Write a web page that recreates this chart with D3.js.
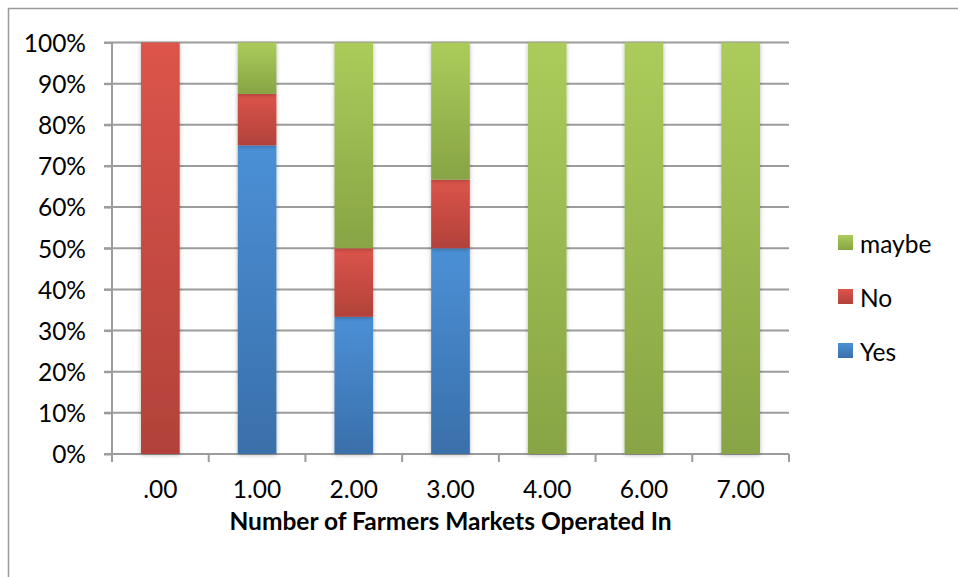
<!DOCTYPE html>
<html>
<head>
<meta charset="utf-8">
<script src="https://cdn.jsdelivr.net/npm/d3@7/dist/d3.min.js"></script>
<style>
  html, body { margin: 0; padding: 0; background: #fff; }
  svg { display: block; }
  text { font-family: Lato, "Open Sans", sans-serif; fill: #000; }
</style>
</head>
<body>
<svg id="chart" width="958" height="577"></svg>
<script>
// Share of answers per number of farmers markets operated in (percent of respondents)
const categories = [".00", "1.00", "2.00", "3.00", "4.00", "6.00", "7.00"];
const yesValues   = [0, 75, 33.33, 50, 0, 0, 0];
const noValues    = [100, 12.5, 16.67, 16.67, 0, 0, 0];
const maybeValues = [0, 12.5, 50, 33.33, 100, 100, 100];
const seriesNames = ["Yes", "No", "maybe"];
const yTicks = [0, 10, 20, 30, 40, 50, 60, 70, 80, 90, 100];
const xTitle = "Number of Farmers Markets Operated In";

const svg = d3.select("#chart");
const W = 958, H = 577;
const plot = { left: 112, right: 789, top: 42.5, bottom: 454 };
const labelSize = "24.5px";

// Chart frame
svg.append("rect")
  .attr("x", 8.5).attr("y", 8.5)
  .attr("width", W).attr("height", H)
  .attr("fill", "#fff").attr("stroke", "#9a9a9a").attr("stroke-width", 1.5);

const defs = svg.append("defs");
const palette = {
  Yes:   { top: "#4b90d6", bottom: "#3a6faa" },
  No:    { top: "#dc544b", bottom: "#b1423a" },
  maybe: { top: "#abcc5b", bottom: "#88a445" }
};
seriesNames.forEach(name => {
  const g = defs.append("linearGradient")
    .attr("id", "grad-" + name)
    .attr("x1", 0).attr("y1", 0).attr("x2", 0).attr("y2", 1);
  g.append("stop").attr("offset", "0%").attr("stop-color", palette[name].top);
  g.append("stop").attr("offset", "100%").attr("stop-color", palette[name].bottom);
});
const shadow = defs.append("filter").attr("id", "barShadow")
  .attr("x", "-30%").attr("y", "-10%").attr("width", "160%").attr("height", "120%");
shadow.append("feDropShadow")
  .attr("dx", 0).attr("dy", 1).attr("stdDeviation", 2.2)
  .attr("flood-color", "#000").attr("flood-opacity", 0.28);

const x = d3.scaleBand()
  .domain(categories)
  .range([plot.left, plot.right])
  .paddingInner(0.6).paddingOuter(0.3);

const y = d3.scaleLinear()
  .domain([0, 100])
  .range([plot.bottom, plot.top]);

// Horizontal gridlines
svg.append("g")
  .selectAll("line")
  .data(yTicks)
  .join("line")
  .attr("x1", plot.left - 8).attr("x2", plot.right)
  .attr("y1", d => y(d)).attr("y2", d => y(d))
  .attr("stroke", "#9c9c9c").attr("stroke-width", 2);

// Y axis
const yAxis = svg.append("g")
  .attr("transform", `translate(${plot.left},0)`)
  .call(d3.axisLeft(y).tickValues(yTicks).tickFormat(d => d + "%").tickSize(8).tickPadding(18));
yAxis.select(".domain").attr("stroke", "#9c9c9c").attr("stroke-width", 2)
  .attr("d", `M0,${plot.top}V${plot.bottom + 8}`);
yAxis.selectAll(".tick line").attr("stroke", "#9c9c9c").attr("stroke-width", 2);
yAxis.selectAll(".tick text")
  .style("font-size", labelSize).attr("dy", "0.36em");

// X axis line, category boundary ticks and labels
const xg = svg.append("g");
xg.append("line")
  .attr("x1", plot.left).attr("x2", plot.right)
  .attr("y1", plot.bottom).attr("y2", plot.bottom)
  .attr("stroke", "#9c9c9c").attr("stroke-width", 2);
xg.selectAll("line.tick")
  .data(d3.range(categories.length + 1))
  .join("line")
  .attr("class", "tick")
  .attr("x1", i => plot.left + (plot.right - plot.left) * i / categories.length)
  .attr("x2", i => plot.left + (plot.right - plot.left) * i / categories.length)
  .attr("y1", plot.bottom).attr("y2", plot.bottom + 8)
  .attr("stroke", "#9c9c9c").attr("stroke-width", 2);
xg.selectAll("text")
  .data(categories)
  .join("text")
  .attr("x", d => x(d) + x.bandwidth() / 2)
  .attr("y", 498)
  .attr("text-anchor", "middle")
  .style("font-size", labelSize)
  .text(d => d);

// Stacked bars
const rows = categories.map((c, i) => ({
  category: c, Yes: yesValues[i], No: noValues[i], maybe: maybeValues[i]
}));
const stacked = d3.stack().keys(seriesNames)(rows);

svg.append("g")
  .selectAll("g")
  .data(stacked)
  .join("g")
  .attr("fill", s => `url(#grad-${s.key})`)
  .selectAll("rect")
  .data(s => s.filter(d => d[1] - d[0] > 0))
  .join("rect")
  .attr("x", d => x(d.data.category))
  .attr("width", x.bandwidth())
  .attr("y", d => y(d[1]))
  .attr("height", d => y(d[0]) - y(d[1]))
  .attr("filter", "url(#barShadow)");

// Axis title
svg.append("text")
  .attr("x", (plot.left + plot.right) / 2)
  .attr("y", 530)
  .attr("text-anchor", "middle")
  .style("font-size", "24.5px")
  .style("font-weight", "bold")
  .text(xTitle);

// Legend (top entry is the last stacked series)
const legendItems = seriesNames.slice().reverse();
const legend = svg.append("g");
legendItems.forEach((name, i) => {
  const ly = 235 + i * 54;
  legend.append("rect")
    .attr("x", 838).attr("y", ly)
    .attr("width", 15).attr("height", 15)
    .attr("fill", `url(#grad-${name})`);
  legend.append("text")
    .attr("x", 860).attr("y", ly + 18)
    .style("font-size", labelSize)
    .text(name);
});
</script>
</body>
</html>
